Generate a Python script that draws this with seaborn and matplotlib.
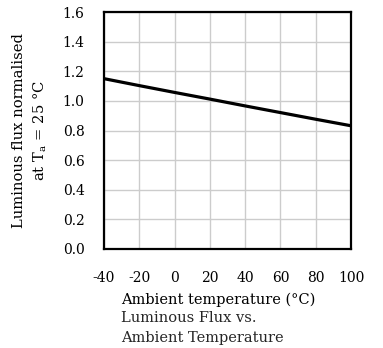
import matplotlib
matplotlib.use("Agg")
import matplotlib.pyplot as plt
import seaborn as sns
import pandas as pd

temperature = [-40, -20, 0, 20, 40, 60, 80, 100]
flux = [1.15, 1.103, 1.057, 1.012, 0.966, 0.921, 0.876, 0.832]
x_ticks = [-40, -20, 0, 20, 40, 60, 80, 100]
y_ticks = [0.0, 0.2, 0.4, 0.6, 0.8, 1.0, 1.2, 1.4, 1.6]

sns.set_theme(style="white")
plt.rcParams['font.family'] = ['DejaVu Serif']
plt.rcParams['mathtext.fontset'] = 'dejavuserif'

df = pd.DataFrame({"t": temperature, "f": flux})

fig = plt.figure(figsize=(3.83, 3.48), dpi=100)
ax = fig.add_axes([104/383, 1-249/348, (351-104)/383, (249-12)/348])

sns.lineplot(data=df, x="t", y="f", ax=ax, color="black", linewidth=2.3)

ax.set_xlim(-40, 100)
ax.set_ylim(0, 1.6)
ax.set_xticks(x_ticks)
ax.set_yticks(y_ticks)
ax.set_xticklabels([str(v) for v in x_ticks])
ax.set_yticklabels([f"{v:.1f}" for v in y_ticks])
ax.grid(True, color="#cccccc", linewidth=1.0)
ax.set_axisbelow(True)
for s in ax.spines.values():
    s.set_color("black")
    s.set_linewidth(1.6)
ax.tick_params(axis="both", direction="in", length=5, width=1.2, color="black",
               labelsize=10, labelcolor="black")
ax.tick_params(axis="x", pad=16)
ax.tick_params(axis="y", pad=14)

ax.set_xlabel("Ambient temperature (°C)", fontsize=10.5, color="black",
              ha="left", va="center")
ax.xaxis.set_label_coords((121-104)/247, (249-300)/237)
ax.set_ylabel("Luminous flux normalised\nat T$_{\\rm a}$ = 25 °C", fontsize=10.6,
              color="black", labelpad=10, linespacing=1.4)

fig.text(121/383, 1-318/348, "Luminous Flux vs.", fontsize=10.5, va="center", ha="left")
fig.text(121/383, 1-338/348, "Ambient Temperature", fontsize=10.5, va="center", ha="left")

fig.savefig("out.png", dpi=100, facecolor="white")
